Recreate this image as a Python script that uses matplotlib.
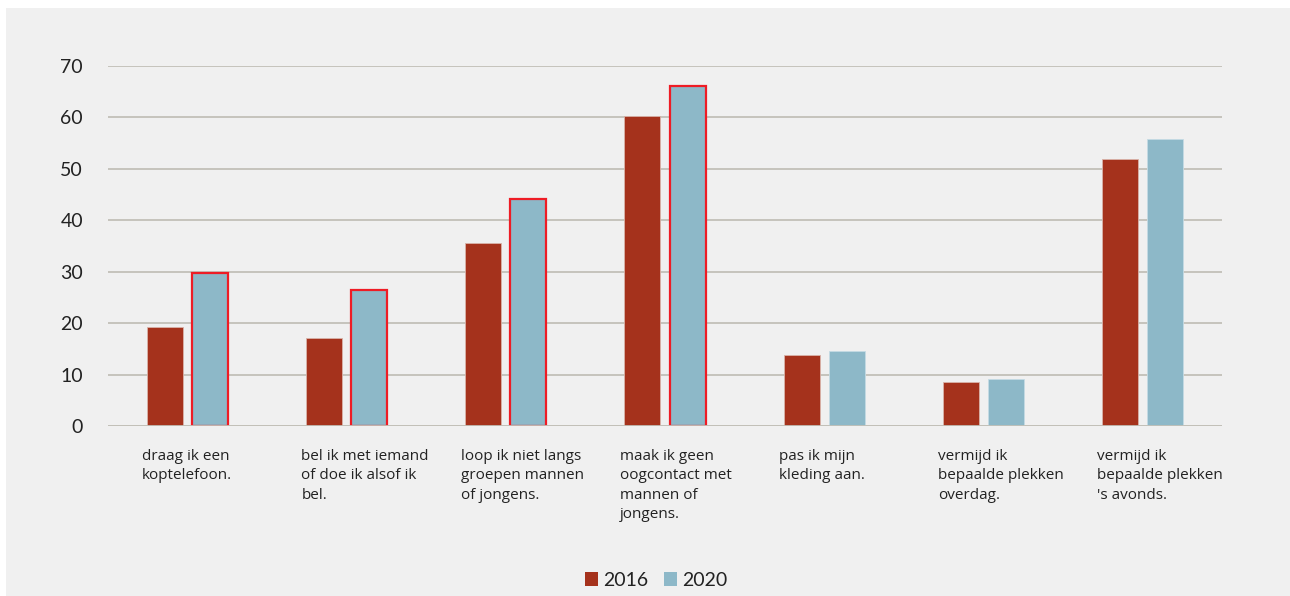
import matplotlib
matplotlib.use("Agg")
import matplotlib.pyplot as plt
from matplotlib.patches import Rectangle, Patch
import numpy as np

categories = [
    "draag ik een\nkoptelefoon.",
    "bel ik met iemand\nof doe ik alsof ik\nbel.",
    "loop ik niet langs\ngroepen mannen\nof jongens.",
    "maak ik geen\noogcontact met\nmannen of\njongens.",
    "pas ik mijn\nkleding aan.",
    "vermijd ik\nbepaalde plekken\noverdag.",
    "vermijd ik\nbepaalde plekken\n's avonds.",
]
series_names = ["2016", "2020"]
values_2016 = [19.2, 17.2, 35.5, 60.3, 13.8, 8.6, 51.9]
values_2020 = [29.7, 26.4, 44.1, 66.2, 14.6, 9.1, 55.9]
highlight_2020 = [True, True, True, True, False, False, False]
yticks = [0, 10, 20, 30, 40, 50, 60, 70]

c2016 = "#a5321c"
c2020 = "#8db8c8"
red_edge = "#ee1c25"
panel = "#f0f0f0"
grid_c = "#c2c0b8"
text_c = "#222222"

plt.rcParams["font.family"] = ["Lato", "DejaVu Sans"]

W, H = 1290, 596
fig = plt.figure(figsize=(W / 100, H / 100), dpi=100, facecolor="white")
fig.patches.append(Rectangle((6 / W, 0), 1 - 6 / W, 1 - 8 / H, transform=fig.transFigure,
                             facecolor=panel, edgecolor="none", zorder=-10))

ax = fig.add_axes([108 / W, 1 - 426 / H, (1222 - 108) / W, (426 - 66) / H])
ax.set_facecolor("none")
x = np.arange(len(categories))
bw = 0.226
off = 0.142
ax.bar(x - off, values_2016, bw, color=c2016, edgecolor="#d9b3aa", linewidth=0.6, zorder=3)
for xi, v, hl in zip(x, values_2020, highlight_2020):
    ax.bar(xi + off, v, bw, color=c2020,
           edgecolor=red_edge if hl else "#c5dbe4",
           linewidth=1.6 if hl else 0.6, zorder=3)

ax.set_xlim(-0.5, len(categories) - 0.5)
ax.set_ylim(0, 70)
ax.set_yticks(yticks)
ax.set_yticklabels([str(t) for t in yticks], fontsize=14, color=text_c)
ax.tick_params(axis="y", length=0, pad=18)
ax.tick_params(axis="x", length=0, labelbottom=False)
for s in ax.spines.values():
    s.set_visible(False)
ax.grid(axis="y", color=grid_c, linewidth=1.3, zorder=0)
ax.set_axisbelow(True)
ax.axhline(0, color=grid_c, linewidth=2, zorder=4)

for xi, lab in zip(x, categories):
    ax.text(xi - 0.285, -4.4, lab, ha="left", va="top", fontsize=11,
            family=["Open Sans", "DejaVu Sans"],
            color=text_c, linespacing=1.42, clip_on=False)

handles = [Patch(facecolor=c2016, edgecolor="none"), Patch(facecolor=c2020, edgecolor="none")]
fig.legend(handles, series_names, loc="center", bbox_to_anchor=(656 / W, 1 - 580 / H),
           ncol=2, frameon=False, fontsize=14, handlelength=0.7, handleheight=0.7,
           handletextpad=0.25, columnspacing=0.8, labelcolor=text_c)

fig.savefig("out.png", dpi=100, facecolor="white")
